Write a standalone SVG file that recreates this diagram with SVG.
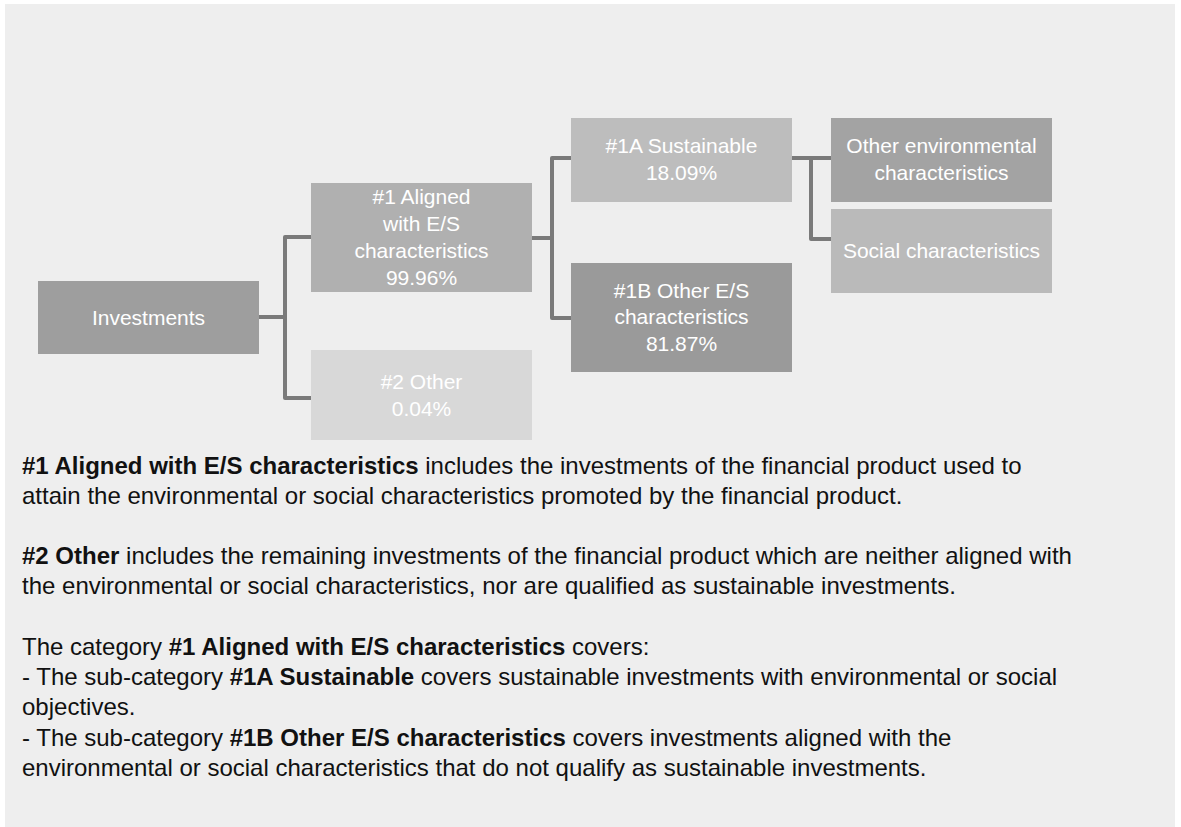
<svg xmlns="http://www.w3.org/2000/svg" width="1181" height="827" viewBox="0 0 1181 827">
  <style>
    .box text { font-family: "Liberation Sans", Arial, sans-serif; font-size: 21px; fill: #ffffff; text-anchor: middle; }
    .conn { fill: none; stroke: #7a7a7a; stroke-width: 4; stroke-linecap: round; stroke-linejoin: round; }
    .body { font-family: "Liberation Sans", Arial, sans-serif; font-size: 24px; fill: #111111; }
    .b { font-weight: bold; }
  </style>
  <rect x="0" y="0" width="1181" height="827" fill="#ffffff"/>
  <rect x="5" y="4" width="1170" height="823" fill="#eeeeee"/>

  <g id="connectors">
    <path class="conn" d="M259,317 H285 M285,237 V398 M285,237 H312 M285,398 H312"/>
    <path class="conn" d="M532,238 H552 M552,158 V318 M552,158 H571 M552,318 H571"/>
    <path class="conn" d="M792,158 H831 M811,158 V239 M811,239 H831"/>
  </g>

  <g id="investments" class="box">
    <rect x="38" y="281" width="221" height="73" fill="#9e9e9e"/>
    <text x="148.5" y="325">Investments</text>
  </g>
  <g id="aligned" class="box">
    <rect x="311" y="183" width="221" height="109" fill="#b0b0b0"/>
    <text x="421.5" y="204">#1 Aligned</text>
    <text x="421.5" y="231">with E/S</text>
    <text x="421.5" y="258">characteristics</text>
    <text x="421.5" y="285">99.96%</text>
  </g>
  <g id="other" class="box">
    <rect x="311" y="350" width="221" height="90" fill="#d8d8d8"/>
    <text x="421.5" y="389">#2 Other</text>
    <text x="421.5" y="416">0.04%</text>
  </g>
  <g id="sustainable" class="box">
    <rect x="571" y="118" width="221" height="84" fill="#bdbdbd"/>
    <text x="681.5" y="153">#1A Sustainable</text>
    <text x="681.5" y="180">18.09%</text>
  </g>
  <g id="other-es" class="box">
    <rect x="571" y="263" width="221" height="109" fill="#9a9a9a"/>
    <text x="681.5" y="298">#1B Other E/S</text>
    <text x="681.5" y="324">characteristics</text>
    <text x="681.5" y="351">81.87%</text>
  </g>
  <g id="other-env" class="box">
    <rect x="831" y="118" width="221" height="84" fill="#a3a3a3"/>
    <text x="941.5" y="153">Other environmental</text>
    <text x="941.5" y="180">characteristics</text>
  </g>
  <g id="social" class="box">
    <rect x="831" y="209" width="221" height="84" fill="#bababa"/>
    <text x="941.5" y="258">Social characteristics</text>
  </g>

  <g id="legend" class="body">
    <text x="22" y="474"><tspan class="b">#1 Aligned with E/S characteristics</tspan> includes the investments of the financial product used to</text>
    <text x="22" y="504">attain the environmental or social characteristics promoted by the financial product.</text>
    <text x="22" y="564"><tspan class="b">#2 Other</tspan> includes the remaining investments of the financial product which are neither aligned with</text>
    <text x="22" y="594">the environmental or social characteristics, nor are qualified as sustainable investments.</text>
    <text x="22" y="655">The category <tspan class="b">#1 Aligned with E/S characteristics</tspan> covers:</text>
    <text x="22" y="685">- The sub-category <tspan class="b">#1A Sustainable</tspan> covers sustainable investments with environmental or social</text>
    <text x="22" y="715">objectives.</text>
    <text x="22" y="746">- The sub-category <tspan class="b">#1B Other E/S characteristics</tspan> covers investments aligned with the</text>
    <text x="22" y="776">environmental or social characteristics that do not qualify as sustainable investments.</text>
  </g>
</svg>
